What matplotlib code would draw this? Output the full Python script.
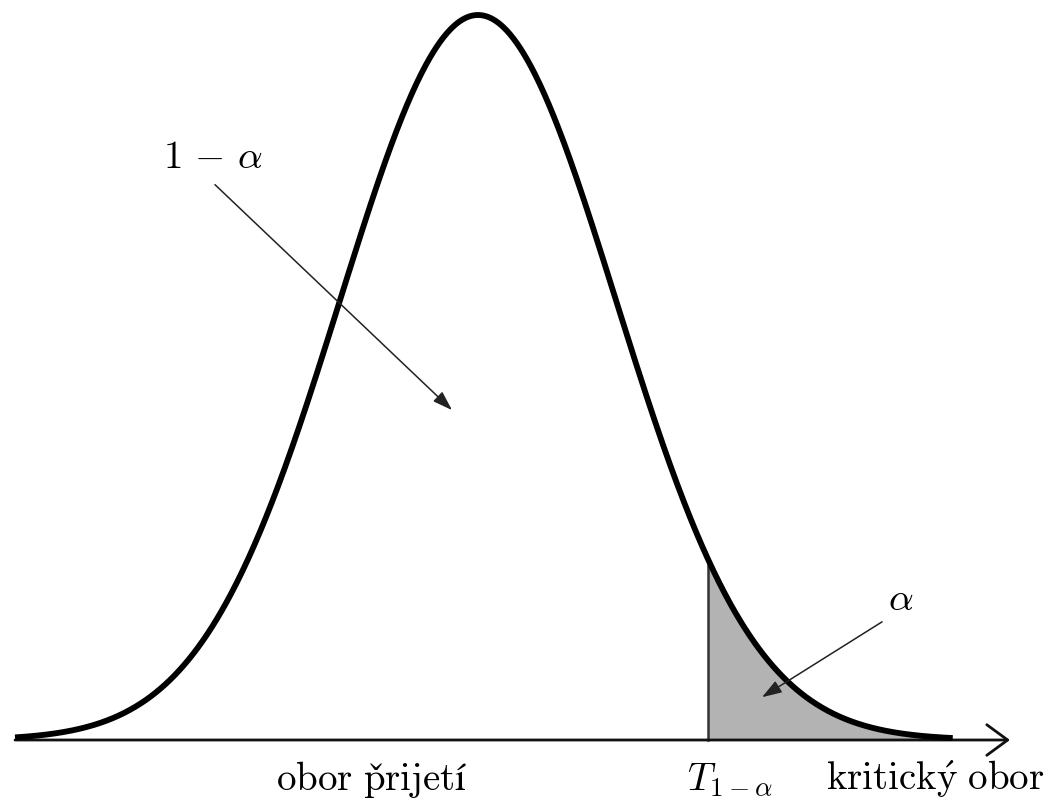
import numpy as np
import matplotlib
matplotlib.use("Agg")
import matplotlib.pyplot as plt

plt.rcParams['mathtext.fontset'] = 'cm'

# --- chart values (standard-normal units) ---
curve_start, curve_end = -3.355, 3.44
axis_start, axis_end = -3.355, 3.855
critical = 1.667
label_one_minus_alpha = (-2.283, 0.789)
label_alpha = (3.065, 0.179)
arrow1 = ((-1.906, 0.766), (-0.188, 0.455))
arrow2 = ((2.928, 0.163), (2.058, 0.059))
label_baseline = -0.069
label_accept = (-1.464, r'$\mathrm{obor\ p\check{r}ijetí}$', 'left')
label_T = (1.514, r'$T_{1-\alpha}$', 'left')
label_critical = (4.109, r'$\mathrm{kritick\acute{y}\ obor}$', 'right')

def density(x):
    return np.exp(-0.5 * x ** 2)

fig = plt.figure(figsize=(10.5, 8), dpi=100)
ax = fig.add_axes([0, 0, 1, 1])
ax.set_xlim((0 - 478) / 138, (1050 - 478) / 138)
ax.set_ylim(-60 / 725, 740 / 725)
ax.axis('off')

xs = np.linspace(curve_start, curve_end, 800)
xt = np.linspace(critical, curve_end, 400)
ax.fill_between(xt, 0, density(xt), color='#b3b3b3', zorder=1, lw=0)
ax.plot([critical, critical], [0, density(critical)], color='#333333', lw=1.8, zorder=2)

# axis with open arrow
ax.annotate('', xy=(axis_end, 0), xytext=(axis_start, 0),
            arrowprops=dict(arrowstyle='->,head_length=0.75,head_width=0.55',
                            color='#111111', lw=2.0, mutation_scale=20,
                            shrinkA=0, shrinkB=0), zorder=3)

ax.plot(xs, density(xs), color='black', lw=4.2, solid_capstyle='butt', zorder=4)

ax.text(*label_one_minus_alpha, r'$1\,-\,\alpha$', fontsize=28, ha='left', va='baseline')
ax.text(*label_alpha, r'$\alpha$', fontsize=28, ha='center', va='baseline')

for (start, end) in (arrow1, arrow2):
    ax.annotate('', xy=end, xytext=start,
                arrowprops=dict(arrowstyle='-|>,head_length=0.6,head_width=0.2',
                                color='#222222', lw=1.1, mutation_scale=20,
                                shrinkA=0, shrinkB=0), zorder=5)

for x, s, ha in (label_accept, label_T, label_critical):
    ax.text(x, label_baseline, s, fontsize=28, ha=ha, va='baseline')

fig.savefig('out.png', dpi=100)
